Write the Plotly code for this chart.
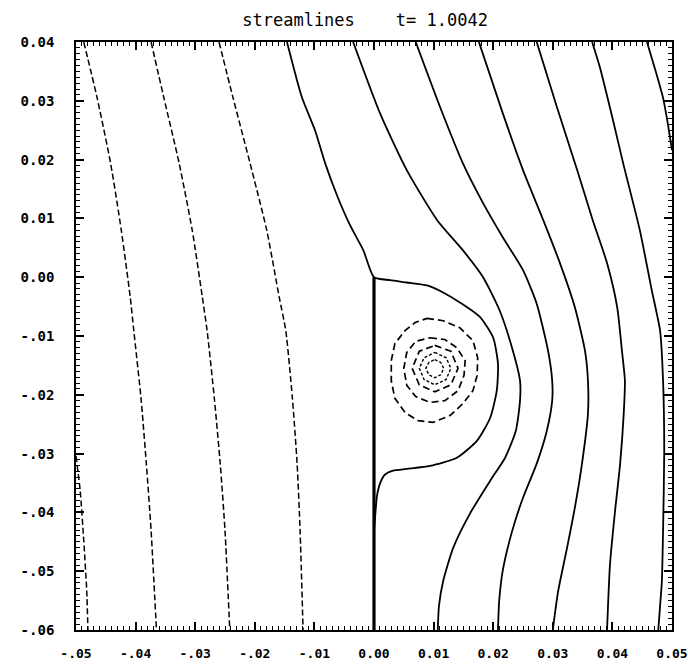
import plotly.graph_objects as go

# ---------------------------------------------------------------
# Streamlines past a vertical plate (x = 0, y <= 0) at t = 1.0042
# Each streamline is given as a list of (x, y) points.
# ---------------------------------------------------------------

# Negative stream-function contours (dashed), left of the plate
neg_y = [0.0400, 0.0307, 0.0194, 0.0080, -0.0034, -0.0091, -0.0205, -0.0317, -0.0431, -0.0600]
neg1_x = [-0.0487, -0.0465, -0.0442, -0.0424, -0.0409, -0.0403, -0.0391, -0.0382, -0.0374, -0.0365]
neg2_x = [-0.0374, -0.0353, -0.0327, -0.0305, -0.0288, -0.0280, -0.0268, -0.0258, -0.0250, -0.0242]
neg3_x = [-0.0260, -0.0237, -0.0208, -0.0180, -0.0159, -0.0148, -0.0137, -0.0129, -0.0124, -0.0119]
neg0_x = [-0.0500, -0.0493, -0.0487, -0.0482, -0.0480]
neg0_y = [-0.0304, -0.0363, -0.0448, -0.0533, -0.0600]

# Zero streamline: from the top down to the plate tip, then round the separation bubble
zero_x = [-0.0146, -0.0121, -0.0099, -0.0082, -0.0062, -0.0040, -0.0018, 0.0000,
          0.0027, 0.0055, 0.0089, 0.0116, 0.0144, 0.0178, 0.0200, 0.0208, 0.0206,
          0.0195, 0.0173, 0.0139, 0.0094, 0.0055, 0.0032, 0.0018, 0.0010, 0.0005,
          0.0002, 0.0000]
zero_y = [0.0400, 0.0306, 0.0250, 0.0194, 0.0139, 0.0088, 0.0046, 0.0000,
          -0.0005, -0.0009, -0.0014, -0.0026, -0.0043, -0.0068, -0.0103, -0.0147, -0.0193,
          -0.0239, -0.0278, -0.0307, -0.0321, -0.0326, -0.0329, -0.0336, -0.0351, -0.0372,
          -0.0406, -0.0431]

# Plate
plate_x = [0.0, 0.0]
plate_y = [-0.0600, 0.0000]

# Positive stream-function contours (solid), right of the plate
pos1_x = [-0.0035, 0.0010, 0.0055, 0.0106, 0.0149, 0.0183, 0.0211, 0.0233, 0.0245,
          0.0245, 0.0238, 0.0220, 0.0195, 0.0161, 0.0133, 0.0116, 0.0109, 0.0107]
pos1_y = [0.0400, 0.0279, 0.0182, 0.0097, 0.0046, 0.0000, -0.0057, -0.0125, -0.0176,
          -0.0210, -0.0261, -0.0307, -0.0346, -0.0402, -0.0460, -0.0517, -0.0559, -0.0600]

pos2_x = [0.0070, 0.0111, 0.0149, 0.0183, 0.0216, 0.0250, 0.0273, 0.0292, 0.0299,
          0.0299, 0.0290, 0.0273, 0.0250, 0.0232, 0.0216, 0.0210, 0.0208]
pos2_y = [0.0400, 0.0289, 0.0194, 0.0126, 0.0068, 0.0012, -0.0045, -0.0125, -0.0176,
          -0.0210, -0.0261, -0.0317, -0.0375, -0.0431, -0.0499, -0.0551, -0.0600]

pos3_x = [0.0176, 0.0216, 0.0250, 0.0284, 0.0312, 0.0337, 0.0354, 0.0359, 0.0359,
          0.0349, 0.0337, 0.0324, 0.0309, 0.0300]
pos3_y = [0.0400, 0.0279, 0.0182, 0.0097, 0.0024, -0.0051, -0.0125, -0.0176, -0.0232,
          -0.0317, -0.0392, -0.0460, -0.0534, -0.0600]

pos4_x = [0.0273, 0.0307, 0.0341, 0.0367, 0.0391, 0.0408, 0.0416, 0.0421, 0.0419,
          0.0413, 0.0404, 0.0396, 0.0391]
pos4_y = [0.0400, 0.0289, 0.0182, 0.0097, 0.0024, -0.0051, -0.0125, -0.0176, -0.0232,
          -0.0317, -0.0402, -0.0488, -0.0600]

pos5_x = [0.0366, 0.0379, 0.0401, 0.0418, 0.0446, 0.0466, 0.0480, 0.0485, 0.0487,
          0.0485, 0.0483, 0.0480, 0.0477]
pos5_y = [0.0400, 0.0357, 0.0267, 0.0194, 0.0080, -0.0022, -0.0091, -0.0176, -0.0295,
          -0.0431, -0.0517, -0.0559, -0.0600]

pos6_x = [0.0458, 0.0473, 0.0485, 0.0492, 0.0500]
pos6_y = [0.0400, 0.0349, 0.0305, 0.0267, 0.0216]

# Recirculating eddy inside the bubble (dashed closed contours)
eddy1_x = [0.0089, 0.0116, 0.0144, 0.0166, 0.0174, 0.0173, 0.0166, 0.0149, 0.0128, 0.0099,
           0.0074, 0.0052, 0.0035, 0.0029, 0.0029, 0.0035, 0.0052, 0.0069, 0.0089]
eddy1_y = [-0.0070, -0.0074, -0.0086, -0.0108, -0.0137, -0.0167, -0.0193, -0.0215, -0.0235, -0.0247,
           -0.0244, -0.0230, -0.0206, -0.0176, -0.0142, -0.0113, -0.0091, -0.0077, -0.0070]

eddy2_x = [0.0094, 0.0119, 0.0139, 0.0153, 0.0151, 0.0141, 0.0119, 0.0094, 0.0070, 0.0055,
           0.0050, 0.0055, 0.0070, 0.0094]
eddy2_y = [-0.0103, -0.0106, -0.0120, -0.0142, -0.0167, -0.0193, -0.0210, -0.0213, -0.0203, -0.0184,
           -0.0155, -0.0128, -0.0109, -0.0103]

eddy3_x = [0.0102, 0.0129, 0.0141, 0.0129, 0.0102, 0.0076, 0.0064, 0.0076, 0.0102]
eddy3_y = [-0.0116, -0.0126, -0.0155, -0.0183, -0.0195, -0.0183, -0.0155, -0.0126, -0.0116]

eddy4_x = [0.0102, 0.0121, 0.0129, 0.0121, 0.0102, 0.0084, 0.0076, 0.0084, 0.0102]
eddy4_y = [-0.0128, -0.0137, -0.0155, -0.0174, -0.0183, -0.0174, -0.0155, -0.0137, -0.0128]

eddy5_x = [0.0102, 0.0112, 0.0117, 0.0112, 0.0102, 0.0092, 0.0087, 0.0092, 0.0102]
eddy5_y = [-0.0140, -0.0145, -0.0155, -0.0166, -0.0171, -0.0166, -0.0155, -0.0145, -0.0140]

# Axis ticks
x_ticks = [-0.05, -0.04, -0.03, -0.02, -0.01, 0.0, 0.01, 0.02, 0.03, 0.04, 0.05]
x_labels = ["-.05", "-.04", "-.03", "-.02", "-.01", "0.00", "0.01", "0.02", "0.03", "0.04", "0.05"]
y_ticks = [-0.06, -0.05, -0.04, -0.03, -0.02, -0.01, 0.0, 0.01, 0.02, 0.03, 0.04]
y_labels = ["-.06", "-.05", "-.04", "-.03", "-.02", "-.01", "0.00", "0.01", "0.02", "0.03", "0.04"]
minor_step = 0.001

title_text = "streamlines    t= 1.0042"

# ---------------------------------------------------------------
fig = go.Figure()

far_dash = "6px,3px"
eddy_dash = "7px,4px"

def add_line(x, y, dash="solid", width=1.8, smooth=True):
    fig.add_trace(go.Scatter(
        x=x, y=y, mode="lines",
        line=dict(color="black", width=width, dash=dash,
                  shape="spline" if smooth else "linear",
                  smoothing=0.6 if smooth else None),
        hoverinfo="skip", showlegend=False,
    ))

for lx in (neg1_x, neg2_x, neg3_x):
    add_line(lx, neg_y, dash=far_dash, width=1.5)
add_line(neg0_x, neg0_y, dash=far_dash, width=1.5)

add_line(zero_x, zero_y)
for lx, ly in ((pos1_x, pos1_y), (pos2_x, pos2_y), (pos3_x, pos3_y),
               (pos4_x, pos4_y), (pos5_x, pos5_y), (pos6_x, pos6_y)):
    add_line(lx, ly)

for lx, ly in ((eddy1_x, eddy1_y), (eddy2_x, eddy2_y), (eddy3_x, eddy3_y)):
    add_line(lx, ly, dash=eddy_dash, width=1.7, smooth=False)
for lx, ly in ((eddy4_x, eddy4_y), (eddy5_x, eddy5_y)):
    add_line(lx, ly, dash="3px,2px", width=1.4, smooth=False)

add_line(plate_x, plate_y, width=3.2, smooth=False)

nbsp = "\u00a0"
x_font = dict(family="DejaVu Sans Mono", size=13, color="black", weight="bold")
y_font = dict(family="DejaVu Sans Mono", size=14, color="black", weight="bold")

fig.update_xaxes(
    range=[-0.05, 0.05], tickmode="array", tickvals=x_ticks, ticktext=x_labels,
    ticklabelstandoff=10,
)
fig.update_yaxes(
    range=[-0.06, 0.04], tickmode="array", tickvals=y_ticks,
    ticktext=[t + nbsp * 2 for t in y_labels],
)
fig.update_xaxes(minor=dict(tickmode="linear", tick0=-0.05, dtick=minor_step))
fig.update_yaxes(minor=dict(tickmode="linear", tick0=-0.06, dtick=minor_step))
fig.update_xaxes(
    showgrid=False, zeroline=False,
    showline=True, linecolor="black", linewidth=2, mirror="allticks",
    ticks="inside", ticklen=8, tickwidth=1.5, tickcolor="black",
    tickfont=x_font,
)
fig.update_yaxes(
    showgrid=False, zeroline=False,
    showline=True, linecolor="black", linewidth=2, mirror="allticks",
    ticks="inside", ticklen=8, tickwidth=1.5, tickcolor="black",
    tickfont=y_font,
)
fig.update_xaxes(minor=dict(ticks="inside", ticklen=4, tickwidth=1, tickcolor="black", showgrid=False))
fig.update_yaxes(minor=dict(ticks="inside", ticklen=4, tickwidth=1, tickcolor="black", showgrid=False))

fig.update_layout(
    width=688, height=667,
    margin=dict(l=76, r=16, t=42, b=37, autoexpand=False),
    paper_bgcolor="white", plot_bgcolor="white",
    title=dict(text=title_text, x=0.485, xanchor="center", xref="paper",
               y=1 - 20 / 667, yanchor="middle", yref="container",
               font=dict(family="DejaVu Sans Mono", size=17, color="black")),
)

fig.write_html("out.html")
